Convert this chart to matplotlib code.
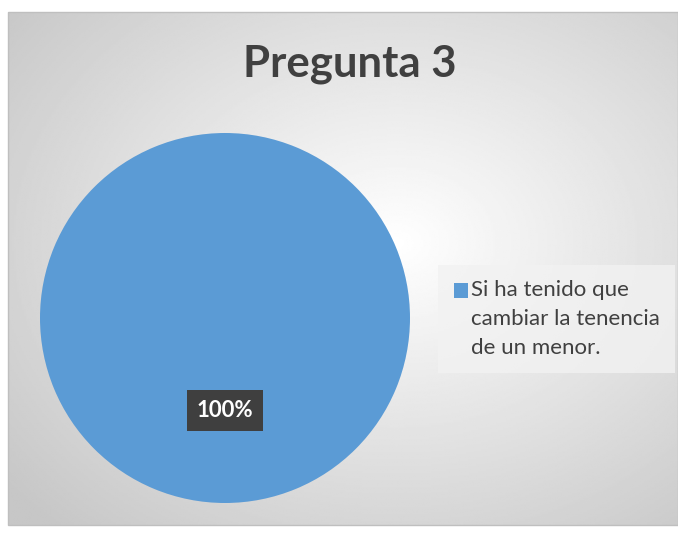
import textwrap

import matplotlib.pyplot as plt
import numpy as np
from matplotlib.legend_handler import HandlerPatch
from matplotlib.patches import Rectangle

title = 'Pregunta 3'
categories = ['Si ha tenido que cambiar la tenencia de un menor.']
values = [100]
colors = ['#5B9BD5']

plt.rcParams['font.family'] = ['Lato', 'DejaVu Sans']

W, H = 678, 535
fig = plt.figure(figsize=(W / 100, H / 100), dpi=100)
fig.patch.set_facecolor('white')

# chart area with radial gradient background
x0, y0, x1, y1 = 8, 12, 678, 525
bg = fig.add_axes([x0 / W, 1 - y1 / H, (x1 - x0) / W, (y1 - y0) / H])
gx, gy = np.meshgrid(np.linspace(0, 1, 400), np.linspace(0, 1, 300))
r = np.sqrt(((gx - 0.58) / 0.75) ** 2 + ((gy - 0.45) / 0.75) ** 2)
shade = 1 - 0.22 * np.clip(r, 0, 1)
bg.imshow(shade, cmap='gray', vmin=0, vmax=1, aspect='auto', extent=[0, 1, 0, 1])
bg.set_axis_off()
fig.patches.append(Rectangle((x0 / W, 1 - y1 / H), (x1 - x0) / W, (y1 - y0) / H,
                             transform=fig.transFigure, fill=False,
                             edgecolor='#bfbfbf', linewidth=1))

fig.text(350 / W, 1 - 64 / H, title, ha='center', va='center',
         fontsize=31.5, fontweight='bold', color='#404040')

ax = fig.add_axes([40 / W, 1 - 503 / H, 370 / W, 370 / H])
labels = [textwrap.fill(c, 20) for c in categories]
wedges, _, autotexts = ax.pie(values, colors=colors, startangle=90, counterclock=False,
                              autopct='%1.0f%%', pctdistance=0.5,
                              wedgeprops=dict(linewidth=0))
for t in autotexts:
    t.set_color('white')
    t.set_fontweight('bold')
    t.set_fontsize(16)
    t.set_bbox(dict(boxstyle='square,pad=0.45', facecolor='#3f3f3f', edgecolor='none'))
ax.set_xlim(-1, 1)
ax.set_ylim(-1, 1)
ax.set_aspect('equal')


class TopSquare(HandlerPatch):
    # put the legend square next to the first line of a wrapped label
    def create_artists(self, legend, orig_handle, xdescent, ydescent, width, height,
                       fontsize, trans):
        shift = fontsize * 1.3
        p = Rectangle((-xdescent, -ydescent + shift), width, height,
                      facecolor=orig_handle.get_facecolor(), edgecolor='none')
        p.set_transform(trans)
        return [p]


leg = fig.legend(wedges, labels, loc='center left',
                 bbox_to_anchor=(445 / W, 1 - 319 / H), frameon=True,
                 fontsize=16, handlelength=0.65, handleheight=0.65, handletextpad=0.1,
                 labelcolor='#404040', borderpad=0.4, borderaxespad=0,
                 handler_map={wedges[0]: TopSquare()})
for t in leg.get_texts():
    t.set_linespacing(1.55)
leg.get_frame().set_facecolor('#f2f2f2')
leg.get_frame().set_edgecolor('none')
leg.get_frame().set_alpha(0.8)
leg.get_frame().set_boxstyle('square')

fig.savefig('out.png', dpi=100)
